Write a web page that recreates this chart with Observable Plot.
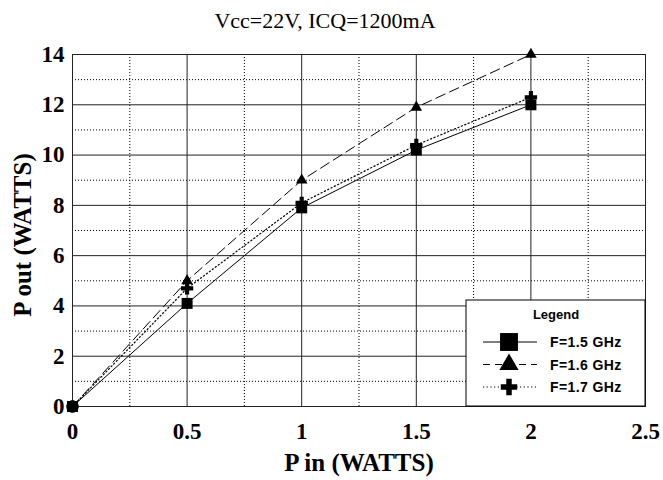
<!DOCTYPE html>
<html><head><meta charset="utf-8">
<script src="https://cdn.jsdelivr.net/npm/d3@7"></script>
<script src="https://cdn.jsdelivr.net/npm/@observablehq/plot@0.6"></script>
<style>body{margin:0;background:#fff}</style>
</head><body><div id="chart"></div>
<script>
const title = "Vcc=22V, ICQ=1200mA";
const xLabel = "P in (WATTS)";
const yLabel = "P out (WATTS)";
const legendTitle = "Legend";
const seriesNames = ["F=1.5 GHz", "F=1.6 GHz", "F=1.7 GHz"];
const pin = [0, 0.5, 1, 1.5, 2];
const pout15 = [0, 4.1, 7.9, 10.2, 12.0];
const pout16 = [0, 5.0, 9.0, 11.9, 14.0];
const pout17 = [0, 4.7, 8.1, 10.4, 12.3];
const xTicks = [0, 0.5, 1, 1.5, 2, 2.5];
const yTicks = [0, 2, 4, 6, 8, 10, 12, 14];
const xMinor = [0.25, 0.75, 1.25, 1.75, 2.25];
const yMinor = [1, 3, 5, 7, 9, 11, 13];

const rows = (vals, name) => pin.map((x, i) => ({x, y: vals[i], series: name}));
const d15 = rows(pout15, seriesNames[0]);
const d16 = rows(pout16, seriesNames[1]);
const d17 = rows(pout17, seriesNames[2]);

const W = 663, H = 480, ML = 72, MR = 18, MT = 54, MB = 74;
const serif = "'Liberation Serif', 'Times New Roman', serif";
const sans = "'Liberation Sans', Arial, sans-serif";

const plot = Plot.plot({
  width: W, height: H,
  marginLeft: ML, marginRight: MR, marginTop: MT, marginBottom: MB,
  style: {fontFamily: serif, color: "#000", background: "#fff"},
  x: {domain: [0, 2.5]},
  y: {domain: [0, 14]},
  marks: [
    Plot.ruleX(xMinor, {stroke: "#000", strokeDasharray: "1,2", strokeWidth: 1}),
    Plot.ruleY(yMinor, {stroke: "#000", strokeDasharray: "1,2", strokeWidth: 1}),
    Plot.ruleX(xTicks, {stroke: "#222", strokeWidth: 1}),
    Plot.ruleY(yTicks, {stroke: "#222", strokeWidth: 1}),
    Plot.frame({stroke: "#222"}),
    Plot.line(d15, {x: "x", y: "y", stroke: "#000", strokeWidth: 1}),
    Plot.line(d16, {x: "x", y: "y", stroke: "#000", strokeWidth: 1, strokeDasharray: "10,5"}),
    Plot.line(d17, {x: "x", y: "y", stroke: "#000", strokeWidth: 1.2, strokeDasharray: "1.2,2.5"}),
    Plot.dot(d17, {x: "x", y: "y", symbol: "cross", r: 5.2, fill: "#000", stroke: "none"}),
    Plot.dot(d15, {x: "x", y: "y", symbol: "square", r: 6.2, fill: "#000", stroke: "none"}),
    Plot.dot(d16, {x: "x", y: "y", symbol: "triangle", r: 4.3, fill: "#000", stroke: "none"}),
    Plot.axisX(xTicks, {tickSize: 0, tickPadding: 16, fontSize: 23, fontWeight: "bold",
      tickFormat: d => String(d), label: null}),
    Plot.axisY(yTicks, {tickSize: 0, tickPadding: 8, fontSize: 23, fontWeight: "bold",
      tickFormat: d => String(d), label: null})
  ]
});
document.getElementById("chart").appendChild(plot);

const svg = d3.select(plot);
svg.append("text").attr("x", 325).attr("y", 28).attr("text-anchor", "middle")
  .attr("font-family", serif).attr("font-size", 22).attr("fill", "#000")
  .text(title);
svg.append("text").attr("x", 359).attr("y", 471).attr("text-anchor", "middle")
  .attr("font-family", serif).attr("font-weight", "bold").attr("font-size", 25).attr("fill", "#000")
  .text(xLabel);
svg.append("text").attr("transform", "translate(31,235) rotate(-90)").attr("text-anchor", "middle")
  .attr("font-family", serif).attr("font-weight", "bold").attr("font-size", 25).attr("fill", "#000")
  .text(yLabel);

// Legend
const lg = svg.append("g").attr("text-anchor", "start");
const bx = 466, by = 300, bw = W - MR - bx, bh = (H - MB) - by;
lg.append("rect").attr("x", bx).attr("y", by).attr("width", bw).attr("height", bh)
  .attr("fill", "#fff").attr("stroke", "#000").attr("stroke-width", 1);
lg.append("text").attr("x", 556).attr("y", 319).attr("text-anchor", "middle")
  .attr("font-family", sans).attr("font-weight", "bold")
  .attr("font-size", 13).attr("fill", "#000").text(legendTitle);
const legStyles = [
  {dash: null, sym: d3.symbolSquare, size: 320},
  {dash: "7,5", sym: d3.symbolTriangle, size: 160},
  {dash: "1.2,2.5", sym: d3.symbolCross, size: 150}
];
seriesNames.forEach((name, i) => {
  const y = 342 + i * 22.5;
  const s = legStyles[i];
  const ln = lg.append("line").attr("x1", 483).attr("x2", 537).attr("y1", y).attr("y2", y)
    .attr("stroke", "#000").attr("stroke-width", 1);
  if (s.dash) ln.attr("stroke-dasharray", s.dash);
  lg.append("path").attr("d", d3.symbol(s.sym, s.size)()).attr("transform", `translate(509,${y})`)
    .attr("fill", "#000");
  lg.append("text").attr("x", 550).attr("y", y + 5).attr("text-anchor", "start")
    .attr("font-family", sans).attr("font-weight", "bold").attr("letter-spacing", 0.4)
    .attr("font-size", 14).attr("fill", "#000").text(name);
});
</script></body></html>
